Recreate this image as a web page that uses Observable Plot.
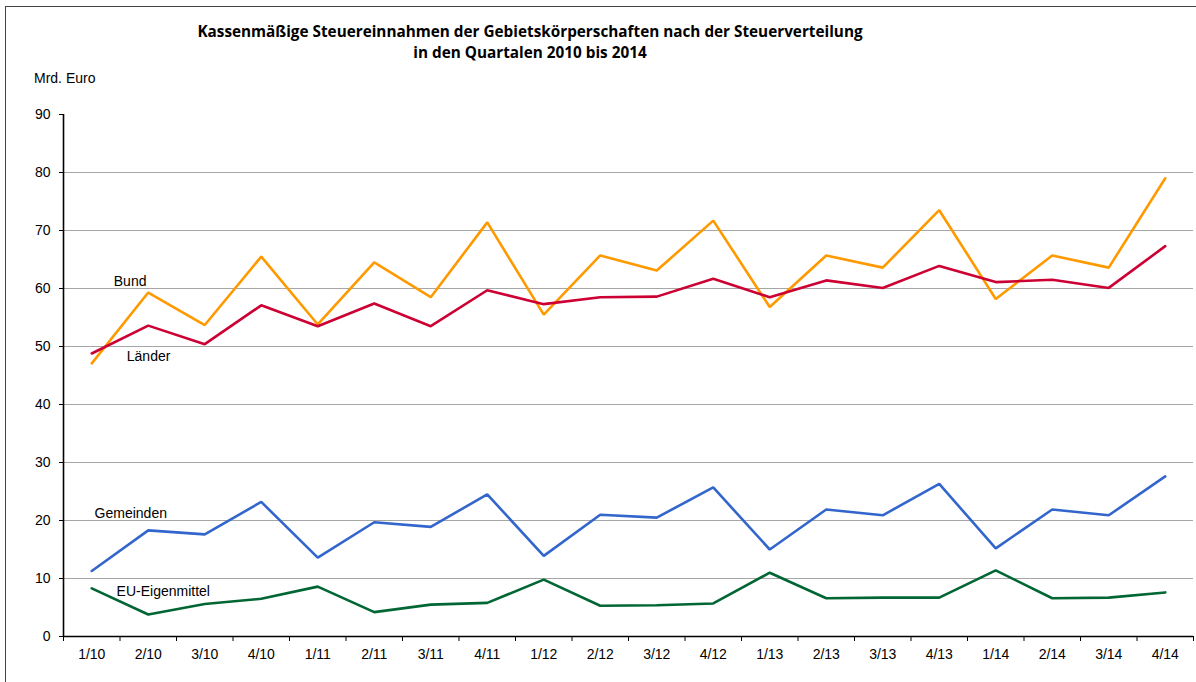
<!DOCTYPE html>
<html>
<head>
<meta charset="utf-8">
<script src="https://cdn.jsdelivr.net/npm/d3@7"></script>
<script src="https://cdn.jsdelivr.net/npm/@observablehq/plot@0.6"></script>
<style>
  html, body { margin: 0; padding: 0; background: #fff; overflow: hidden; }
  #wrap { position: relative; width: 1196px; height: 682px; overflow: hidden; font-family: "Liberation Sans", Arial, sans-serif; }
  #frame { position: absolute; left: 5px; top: 6px; width: 1400px; height: 900px; border: 1.5px solid #444; box-sizing: border-box; }
  #title { position: absolute; left: 0; width: 1060px; top: 21px; text-align: center; font-family: "Open Sans", sans-serif; font-weight: bold; font-size: 15.3px; line-height: 21px; color: #000; }
  #ylab { position: absolute; left: 34px; top: 70px; font-size: 14px; color: #000; }
  #chart { position: absolute; left: 0; top: 100px; }
</style>
</head>
<body>
<div id="wrap">
  <div id="frame"></div>
  <div id="title">Kassenmäßige Steuereinnahmen der Gebietskörperschaften nach der Steuerverteilung<br>in den Quartalen 2010 bis 2014</div>
  <div id="ylab">Mrd. Euro</div>
  <div id="chart"></div>
</div>
<script>
const quarters = ["1/10","2/10","3/10","4/10","1/11","2/11","3/11","4/11","1/12","2/12","3/12","4/12","1/13","2/13","3/13","4/13","1/14","2/14","3/14","4/14"];
const bund      = [47.1, 59.3, 53.7, 65.5, 53.8, 64.5, 58.5, 71.4, 55.5, 65.7, 63.1, 71.7, 56.8, 65.7, 63.6, 73.5, 58.2, 65.7, 63.6, 79.0];
const laender   = [48.8, 53.6, 50.4, 57.1, 53.5, 57.4, 53.5, 59.7, 57.3, 58.5, 58.6, 61.7, 58.5, 61.4, 60.1, 63.9, 61.1, 61.5, 60.1, 67.3];
const gemeinden = [11.3, 18.3, 17.6, 23.2, 13.6, 19.7, 18.9, 24.5, 13.9, 21.0, 20.5, 25.7, 15.0, 21.9, 20.9, 26.3, 15.2, 21.9, 20.9, 27.6];
const euEigen   = [8.3, 3.8, 5.6, 6.5, 8.6, 4.2, 5.5, 5.8, 9.8, 5.3, 5.4, 5.7, 11.0, 6.6, 6.7, 6.7, 11.4, 6.6, 6.7, 7.6];
const seriesNames = ["Bund", "Länder", "Gemeinden", "EU-Eigenmittel"];
const seriesColors = ["#FF9900", "#CC0033", "#3366CC", "#006633"];
const yTicks = [0, 10, 20, 30, 40, 50, 60, 70, 80, 90];
const gridTicks = [10, 20, 30, 40, 50, 60, 70, 80];
// label anchor in data units (quarter index, value)
const labels = [
  {name: "Bund", i: 0.39, v: 61.2},
  {name: "Länder", i: 0.62, v: 48.3},
  {name: "Gemeinden", i: 0.05, v: 21.2},
  {name: "EU-Eigenmittel", i: 0.44, v: 7.8}
];

const seriesValues = [bund, laender, gemeinden, euEigen];
const rows = [];
seriesNames.forEach((s, k) => seriesValues[k].forEach((v, i) => rows.push({series: s, i, value: v})));
const idx = quarters.map((q, i) => i);
const bounds = [-0.5, ...idx.map(i => i + 0.5)];

const chart = Plot.plot({
  width: 1196,
  height: 582,
  marginTop: 14,
  marginBottom: 46,
  marginLeft: 63,
  marginRight: 3,
  style: {fontFamily: "Liberation Sans, Arial, sans-serif", fontSize: "14px", color: "#000", background: "transparent"},
  x: {type: "linear", domain: [-0.5, quarters.length - 0.5], axis: null},
  y: {domain: [0, 90], axis: null},
  color: {domain: seriesNames, range: seriesColors},
  marks: [
    Plot.ruleY(gridTicks, {stroke: "#a6a6a6", strokeWidth: 1}),
    Plot.line(rows, {x: "i", y: "value", z: "series", stroke: "series", strokeWidth: 2.6, strokeLinejoin: "miter"}),
    Plot.ruleY([0], {stroke: "#000", strokeWidth: 1.6}),
    Plot.ruleX([-0.5], {stroke: "#000", strokeWidth: 1.6}),
    Plot.axisY({ticks: yTicks, tickSize: 4, tickPadding: 9, stroke: "#000", fill: "#000", fontSize: 14, label: null}),
    Plot.axisX({ticks: bounds, tickSize: 5, tickFormat: () => "", stroke: "#000", label: null}),
    Plot.axisX({ticks: idx, tickSize: 0, tickPadding: 13, tickFormat: i => quarters[i], fill: "#000", fontSize: 14, label: null}),
    Plot.text(labels, {x: "i", y: "v", text: "name", textAnchor: "start", fill: "#000", fontSize: 14})
  ]
});
document.getElementById("chart").appendChild(chart);
</script>
</body>
</html>
